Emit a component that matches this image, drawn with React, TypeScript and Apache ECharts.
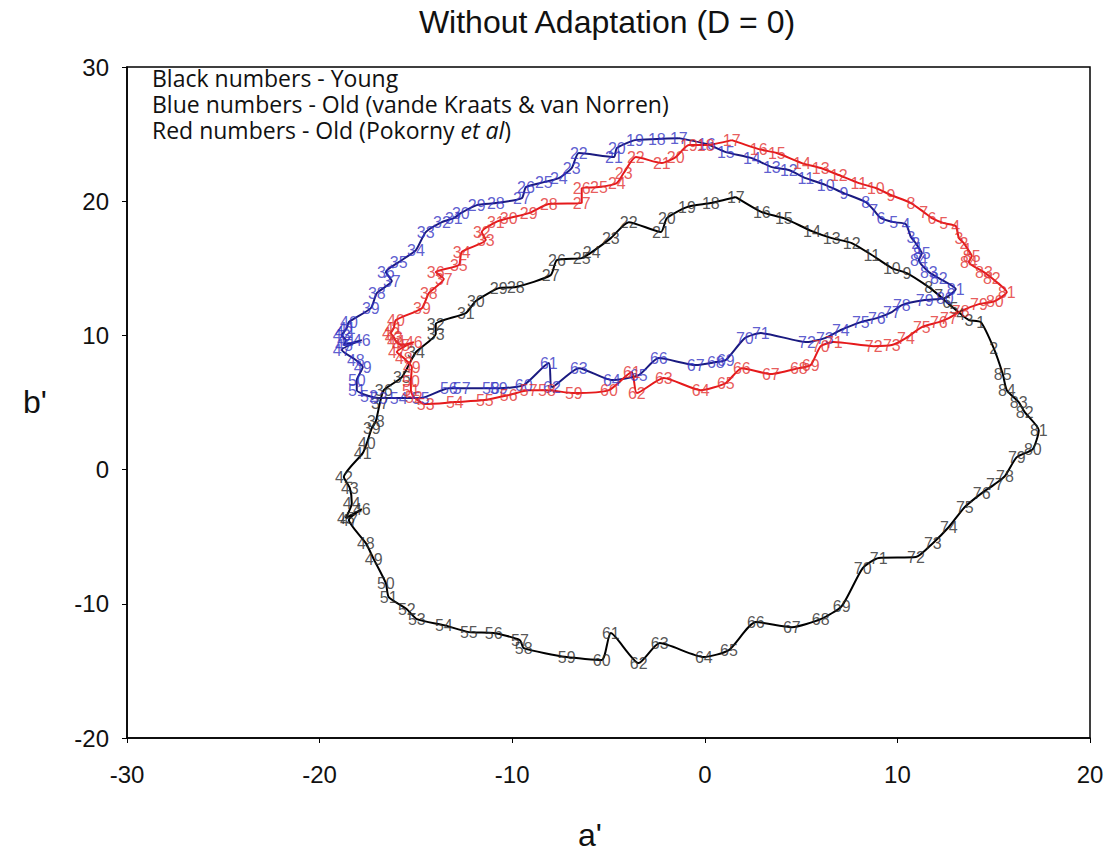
import React, { useEffect, useRef } from "react";
import * as echarts from "echarts";

// Young (black) curve, in path order
const blackLabels = ["17","16","15","14","13","12","11","10","9","8","7","6","5","4","3","1","2","85","84","83","82","81","80","79","78","77","76","75","74","73","72","71","70","69","68","67","66","65","64","63","62","61","60","59","58","57","56","55","54","53","52","51","50","49","48","47","46","45","44","43","42","41","40","39","38","37","36","35","34","33","32","31","30","29","28","27","26","25","24","23","22","21","20","19","18"];
const blackX = [1.61,2.96,4.10,5.56,6.59,7.63,8.67,9.71,10.49,11.63,12.15,12.56,12.93,13.29,13.71,14.33,15.00,15.47,15.68,16.30,16.61,17.34,17.03,16.20,15.58,15.06,14.38,13.50,12.67,11.84,10.96,9.03,8.20,7.11,6.02,4.52,2.65,1.25,-0.05,-2.34,-3.43,-4.88,-5.35,-7.17,-9.40,-9.60,-10.96,-12.25,-13.55,-14.95,-15.47,-16.41,-16.56,-17.19,-17.60,-18.48,-17.81,-18.64,-18.33,-18.43,-18.74,-17.76,-17.55,-17.29,-17.08,-16.87,-16.67,-15.73,-15.00,-13.97,-13.97,-12.41,-11.89,-10.70,-9.81,-8.00,-7.68,-6.39,-5.87,-4.88,-3.95,-2.28,-1.97,-0.93,0.31];
const blackY = [20.31,19.19,18.74,17.77,17.25,16.88,15.99,15.02,14.64,13.60,13.00,12.48,12.03,11.59,11.14,10.99,9.05,7.12,5.92,5.03,4.28,2.94,1.53,0.93,-0.48,-1.08,-1.75,-2.79,-4.28,-5.48,-6.52,-6.59,-7.34,-10.17,-11.14,-11.74,-11.36,-13.45,-13.97,-12.93,-14.42,-12.18,-14.19,-13.97,-13.30,-12.70,-12.18,-12.11,-11.59,-11.14,-10.40,-9.50,-8.46,-6.67,-5.48,-3.76,-2.94,-3.61,-2.50,-1.38,-0.56,1.23,1.97,3.09,3.61,4.96,5.92,6.89,8.76,10.10,10.84,11.66,12.56,13.52,13.60,14.49,15.61,15.76,16.21,17.25,18.44,17.70,18.74,19.56,19.86];

// Old, van de Kraats & van Norren (blue) curve
const blueLabels = ["17","16","15","14","13","12","11","10","9","8","7","6","5","4","3","2","1","85","84","83","82","81","80","79","78","77","76","75","74","73","72","71","70","69","68","67","66","65","64","63","62","61","60","59","58","57","56","55","54","53","52","51","50","49","48","47","46","45","44","43","42","41","40","39","38","37","36","35","34","33","32","31","30","29","28","27","26","25","24","23","22","21","20","19","18"];
const blueX = [-1.35,0.10,1.09,2.44,3.48,4.36,5.24,6.28,7.22,8.36,8.77,9.14,9.81,10.44,10.70,10.95,11.11,11.27,11.11,11.63,12.15,13.03,12.46,11.42,10.23,9.71,8.93,8.10,7.06,6.23,5.30,2.91,2.08,1.09,0.57,-0.47,-2.39,-3.43,-4.83,-6.54,-7.94,-8.10,-9.40,-10.70,-11.11,-12.62,-13.29,-14.75,-15.89,-16.93,-17.44,-18.07,-18.07,-17.76,-18.12,-18.85,-17.81,-18.74,-18.64,-18.85,-18.74,-18.59,-18.48,-17.34,-17.03,-16.25,-16.56,-15.89,-15.00,-14.49,-13.65,-13.03,-12.67,-11.84,-10.85,-9.50,-9.29,-8.36,-7.58,-6.91,-6.54,-4.72,-4.57,-3.63,-2.49];
const blueY = [24.70,24.26,23.66,23.21,22.54,22.32,21.72,21.20,20.60,19.93,19.34,18.74,18.44,18.29,17.33,16.88,16.51,16.13,15.61,14.72,14.27,13.45,12.78,12.63,12.26,11.74,11.29,10.99,10.40,9.80,9.50,10.17,9.80,8.16,8.01,7.79,8.31,7.04,6.67,7.56,6.15,7.94,6.30,6.07,6.07,6.07,6.07,5.33,5.33,5.33,5.48,5.92,6.67,7.64,8.16,8.91,9.65,9.28,9.65,10.02,10.25,10.54,10.99,12.03,13.15,14.05,14.72,15.46,16.36,17.70,18.44,18.74,19.11,19.71,19.86,20.23,21.05,21.42,21.72,22.47,23.59,23.29,23.96,24.55,24.63];

// Old, Pokorny et al (red) curve
const redLabels = ["17","16","15","14","13","12","11","10","9","8","7","6","5","4","3","2","1","85","84","83","82","81","80","79","78","77","76","75","74","73","72","71","70","69","68","67","66","65","64","63","62","61","60","59","58","57","56","55","54","53","52","51","50","49","48","47","46","45","44","43","42","41","40","39","38","37","36","35","34","33","32","31","30","29","28","27","26","25","24","23","22","21","20","19","18"];
const redX = [1.40,2.80,3.74,5.04,6.02,6.96,8.00,8.88,9.66,10.70,11.37,11.79,12.41,13.03,13.19,13.45,13.65,13.86,13.71,14.49,14.90,15.68,15.06,14.23,13.29,12.67,12.15,11.27,10.44,9.71,8.77,6.70,6.02,5.50,4.88,3.43,1.92,1.09,-0.21,-2.13,-3.53,-3.79,-4.98,-6.80,-8.20,-9.14,-10.18,-11.42,-12.98,-14.49,-15.11,-15.26,-15.26,-15.21,-15.63,-15.99,-15.11,-15.78,-16.04,-16.15,-16.30,-16.15,-16.04,-14.69,-14.33,-13.55,-13.97,-12.77,-12.62,-11.37,-11.58,-10.85,-10.18,-9.14,-8.10,-6.39,-6.39,-5.50,-4.57,-4.21,-3.58,-2.23,-1.51,-0.83,0.05];
const redY = [24.55,23.88,23.59,22.84,22.47,21.95,21.35,20.98,20.46,19.86,19.19,18.74,18.37,18.15,17.25,16.88,16.43,15.91,15.46,14.72,14.27,13.23,12.56,12.33,11.81,11.29,10.99,10.62,9.80,9.28,9.20,9.50,9.20,7.79,7.56,7.12,7.56,6.45,5.92,6.82,5.70,7.27,5.92,5.70,5.92,5.92,5.55,5.18,5.03,4.88,5.40,5.92,6.60,7.64,8.31,8.76,9.50,9.28,9.58,9.87,10.17,10.54,11.14,12.03,13.15,14.20,14.72,15.24,16.21,17.10,17.70,18.44,18.74,19.11,19.79,19.86,20.98,21.05,21.35,22.10,23.29,22.84,23.29,24.18,24.18];

const titleText = "Without Adaptation (D = 0)";
const legendLines = ["Black numbers - Young", "Blue numbers - Old (vande Kraats & van Norren)"];

const FONT = "Liberation Sans, Arial, sans-serif";
const LFONT = "Open Sans, sans-serif";

function linePts(xs: number[], ys: number[]) {
  const d = xs.map((x, i) => [x, ys[i]]);
  d.push(d[0]);
  return d;
}
function labelPts(xs: number[], ys: number[], labels: string[]) {
  return xs.map((x, i) => [x, ys[i], labels[i]]);
}

function lineSeries(xs: number[], ys: number[], color: string, z: number) {
  return {
    type: "line",
    data: linePts(xs, ys),
    symbol: "none",
    showSymbol: false,
    smooth: 0.2,
    silent: true,
    z,
    lineStyle: { color, width: 2 },
  };
}
function labelSeries(xs: number[], ys: number[], labels: string[], color: string, z: number) {
  return {
    type: "scatter",
    data: labelPts(xs, ys, labels),
    symbol: "circle",
    symbolSize: 1,
    silent: true,
    z,
    itemStyle: { color: "rgba(0,0,0,0)" },
    label: {
      show: true,
      position: "inside",
      formatter: (p: any) => p.data[2],
      color,
      fontSize: 16,
      fontFamily: FONT,
    },
  };
}

export default function App() {
  const ref = useRef<HTMLDivElement>(null);
  useEffect(() => {
    document.body.style.margin = "0";
    const chart = echarts.init(ref.current!, null, { renderer: "svg" });
    chart.setOption({
      animation: false,
      backgroundColor: "#ffffff",
      grid: { left: 127, right: 22, top: 67, bottom: 115, show: true, borderColor: "#000", borderWidth: 1.5 },
      xAxis: {
        type: "value",
        min: -30,
        max: 20,
        interval: 10,
        splitLine: { show: false },
        axisLine: { show: true, onZero: false, lineStyle: { color: "#000", width: 1.5 } },
        axisTick: { show: true, inside: false, length: 5, lineStyle: { color: "#000" } },
        axisLabel: { color: "#111", fontSize: 24, fontFamily: FONT, margin: 24 },
      },
      yAxis: {
        type: "value",
        min: -20,
        max: 30,
        interval: 10,
        splitLine: { show: false },
        axisLine: { show: true, onZero: false, lineStyle: { color: "#000", width: 1.5 } },
        axisTick: { show: true, inside: false, length: 5, lineStyle: { color: "#000" } },
        axisLabel: { color: "#111", fontSize: 24, fontFamily: FONT, margin: 18 },
      },
      graphic: [
        { type: "text", x: 607, y: 22, style: { text: titleText, font: `32px ${FONT}`, fill: "#111", align: "center", verticalAlign: "middle" } },
        { type: "text", x: 590, y: 835, style: { text: "a'", font: `32px ${FONT}`, fill: "#111", align: "center", verticalAlign: "middle" } },
        { type: "text", x: 35, y: 402, style: { text: "b'", font: `32px ${FONT}`, fill: "#111", align: "center", verticalAlign: "middle" } },
        { type: "text", x: 152, y: 78, style: { text: legendLines[0], font: `23px ${LFONT}`, fill: "#111", verticalAlign: "middle" } },
        { type: "text", x: 152, y: 104, style: { text: legendLines[1], font: `23px ${LFONT}`, fill: "#111", verticalAlign: "middle" } },
        {
          type: "text",
          x: 152,
          y: 130,
          style: {
            text: "{n|Red numbers - Old (Pokorny }{i|et al}{n|)}",
            verticalAlign: "middle",
            rich: {
              n: { font: `23px ${LFONT}`, fill: "#111" },
              i: { font: `italic 23px ${LFONT}`, fill: "#111" },
            },
          },
        },
      ],
      series: [
        lineSeries(blackX, blackY, "#000000", 2),
        lineSeries(blueX, blueY, "#1a1a80", 3),
        lineSeries(redX, redY, "#e5191b", 4),
        labelSeries(blackX, blackY, blackLabels, "#2a2a2a", 5),
        labelSeries(blueX, blueY, blueLabels, "#3434c4", 6),
        labelSeries(redX, redY, redLabels, "#e23030", 7),
      ],
    });
    return () => chart.dispose();
  }, []);
  return <div ref={ref} style={{ width: 1112, height: 853 }} />;
}
